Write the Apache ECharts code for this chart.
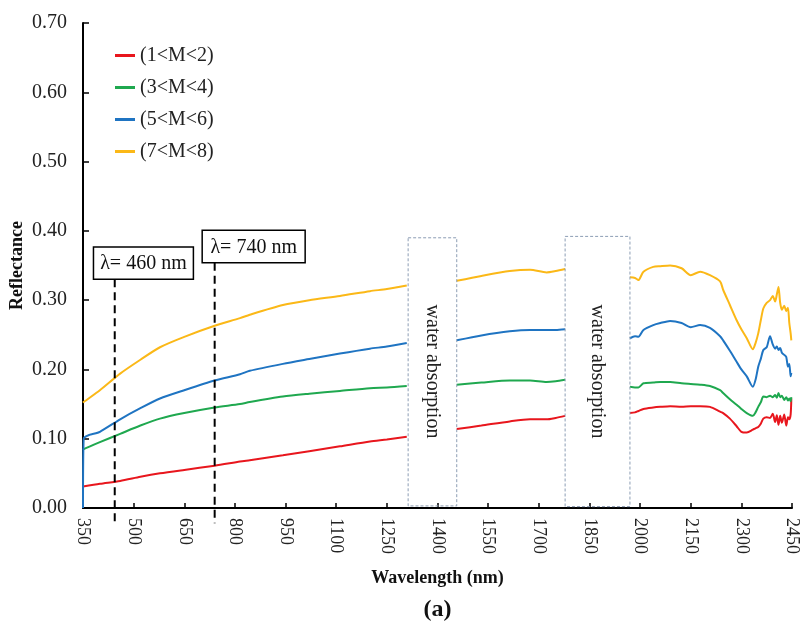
<!DOCTYPE html>
<html>
<head>
<meta charset="utf-8">
<script src="https://cdn.jsdelivr.net/npm/echarts@6/dist/echarts.min.js"></script>
<style>html,body{margin:0;padding:0;background:#fff}#c{width:800px;height:636px}</style>
</head>
<body>
<div id="c"></div>
<script>
const wavelengths = [350, 352, 400, 460, 520, 578, 650, 740, 815, 844, 942, 1020, 1111, 1200, 1250, 1309, 1380,
  1457, 1530, 1614, 1674, 1723, 1750, 1778, 1870,
  1970, 1985, 1995, 2010, 2039, 2060, 2089, 2123, 2150, 2178, 2207, 2237, 2246, 2266, 2286, 2300, 2316, 2334, 2342,
  2350, 2358, 2365, 2375, 2385, 2393, 2400, 2405, 2410, 2415, 2420, 2427, 2433, 2438, 2442, 2446, 2448];

const m12 = [0.031, 0.031, 0.035, 0.039, 0.045, 0.050, 0.055, 0.061, 0.067, 0.069, 0.076, 0.082, 0.089, 0.096, 0.099, 0.103, null,
  0.114, 0.119, 0.125, 0.128, 0.128, 0.130, 0.133, null,
  0.137, 0.138, 0.140, 0.143, 0.145, 0.146, 0.147, 0.146, 0.147, 0.147, 0.146, 0.139, 0.137, 0.129, 0.118, 0.110, 0.109, 0.113, 0.115,
  0.117, 0.122, 0.129, 0.131, 0.130, 0.136, 0.124, 0.134, 0.120, 0.133, 0.123, 0.135, 0.119, 0.131, 0.128, 0.135, 0.158];

const m34 = [0.084, 0.085, 0.095, 0.107, 0.119, 0.129, 0.137, 0.145, 0.150, 0.153, 0.161, 0.165, 0.169, 0.173, 0.174, 0.176, null,
  0.178, 0.181, 0.184, 0.184, 0.182, 0.183, 0.185, null,
  0.175, 0.174, 0.174, 0.180, 0.181, 0.182, 0.182, 0.180, 0.179, 0.178, 0.176, 0.170, 0.166, 0.157, 0.149, 0.143, 0.137, 0.133, 0.138,
  0.146, 0.153, 0.161, 0.160, 0.162, 0.160, 0.163, 0.159, 0.166, 0.160, 0.162, 0.156, 0.160, 0.155, 0.158, 0.154, 0.160];

const m56 = [0.000, 0.100, 0.110, 0.128, 0.144, 0.158, 0.170, 0.184, 0.193, 0.198, 0.208, 0.215, 0.223, 0.230, 0.233, 0.238, null,
  0.242, 0.249, 0.255, 0.257, 0.257, 0.257, 0.258, null,
  0.245, 0.248, 0.247, 0.257, 0.264, 0.267, 0.270, 0.267, 0.261, 0.264, 0.260, 0.248, 0.242, 0.227, 0.211, 0.200, 0.190, 0.175, 0.185,
  0.204, 0.216, 0.228, 0.232, 0.248, 0.236, 0.230, 0.233, 0.228, 0.231, 0.224, 0.221, 0.218, 0.204, 0.208, 0.190, 0.195];

const m78 = [0.152, 0.153, 0.170, 0.194, 0.214, 0.232, 0.247, 0.263, 0.274, 0.279, 0.293, 0.300, 0.306, 0.313, 0.316, 0.321, null,
  0.328, 0.335, 0.342, 0.344, 0.340, 0.342, 0.345, null,
  0.333, 0.332, 0.329, 0.341, 0.348, 0.349, 0.350, 0.346, 0.336, 0.341, 0.336, 0.327, 0.315, 0.293, 0.271, 0.258, 0.245, 0.229, 0.238,
  0.252, 0.272, 0.288, 0.296, 0.300, 0.306, 0.298, 0.308, 0.319, 0.296, 0.286, 0.292, 0.284, 0.289, 0.267, 0.252, 0.242];

const seriesNames = ['(1<M<2)', '(3<M<4)', '(5<M<6)', '(7<M<8)'];
const seriesValues = [m12, m34, m56, m78];
const seriesColors = ['#e8161d', '#1fa84f', '#1f74c2', '#fbb817'];

const xTicks = [350, 500, 650, 800, 950, 1100, 1250, 1400, 1550, 1700, 1850, 2000, 2150, 2300, 2450];

// annotation anchors (data units)
const lambdaLines = [444, 740];
const lambdaLabels = ['λ= 460 nm', 'λ= 740 nm'];
const lambdaBoxes = [[381, 677, 0.3766, 0.330], [703, 1008, 0.401, 0.354]];
const waterBoxes = [[1313, 1457, 0.003, 0.390], [1778, 1970, 0.002, 0.392]];

const FONT = 'Liberation Serif';
const chart = echarts.init(document.getElementById('c'));

chart.setOption({
  animation: false,
  backgroundColor: '#fff',
  grid: { left: 83, right: 8, top: 23, bottom: 128, containLabel: false, outerBoundsMode: 'none' },
  legend: {
    orient: 'vertical', left: 110, top: 40,
    icon: 'rect', itemWidth: 20, itemHeight: 3, itemGap: 11,
    textStyle: { fontFamily: FONT, fontSize: 20, color: '#222', lineHeight: 21 },
    data: seriesNames
  },
  xAxis: {
    type: 'value', min: 350, max: 2450,
    name: 'Wavelength (nm)', nameLocation: 'middle', nameGap: 61, nameMoveOverlap: false,
    nameTextStyle: { fontFamily: FONT, fontSize: 18, fontWeight: 'bold', color: '#111' },
    axisLine: { show: true, lineStyle: { color: '#000', width: 2 } },
    axisTick: { show: true, inside: true, length: 5, customValues: xTicks, lineStyle: { color: '#000', width: 1.5 } },
    axisLabel: { customValues: xTicks, rotate: -90, margin: 10, fontFamily: FONT, fontSize: 18, color: '#222', formatter: v => String(v) },
    splitLine: { show: false }
  },
  yAxis: {
    type: 'value', min: 0, max: 0.7, interval: 0.1,
    name: 'Reflectance', nameLocation: 'middle', nameGap: 57, nameMoveOverlap: false,
    nameTextStyle: { fontFamily: FONT, fontSize: 18, fontWeight: 'bold', color: '#111' },
    axisLine: { show: true, lineStyle: { color: '#000', width: 2 } },
    axisTick: { show: true, inside: true, length: 6, lineStyle: { color: '#000', width: 1.5 } },
    axisLabel: { margin: 16, fontFamily: FONT, fontSize: 20, color: '#222', formatter: v => v.toFixed(2) },
    splitLine: { show: false }
  },
  series: seriesNames.map((n, k) => ({
    name: n, type: 'line', showSymbol: false, symbol: 'none', smooth: 0.25,
    lineStyle: { color: seriesColors[k], width: 2 },
    itemStyle: { color: seriesColors[k] },
    data: wavelengths.map((w, i) => seriesValues[k][i] == null ? [w, '-'] : [w, seriesValues[k][i]])
  }))
});

const px = (x, y) => chart.convertToPixel({ xAxisIndex: 0, yAxisIndex: 0 }, [x, y]);
const g = [];
waterBoxes.forEach(b => {
  const p1 = px(b[0], b[3]), p2 = px(b[1], b[2]);
  g.push({ type: 'rect', shape: { x: p1[0], y: p1[1], width: p2[0] - p1[0], height: p2[1] - p1[1] },
    style: { fill: 'rgba(255,255,255,0)', stroke: '#8c9db4', lineWidth: 1, lineDash: [3, 2] }, z: 50 });
  const c = px((b[0] + b[1]) / 2, 0.197);
  g.push({ type: 'text', x: c[0], y: c[1], rotation: -Math.PI / 2,
    style: { text: 'water absorption', fontFamily: FONT, fontSize: 20, fill: '#222', align: 'center', verticalAlign: 'middle' }, z: 51 });
});
lambdaBoxes.forEach((b, i) => {
  const p1 = px(b[0], b[2]), p2 = px(b[1], b[3]);
  const lx = px(lambdaLines[i], 0)[0];
  const bottom = px(lambdaLines[i], -0.022)[1];
  g.push({ type: 'line', shape: { x1: lx, y1: p2[1], x2: lx, y2: bottom },
    style: { stroke: '#000', lineWidth: 2, lineDash: [8, 5] }, z: 52 });
  g.push({ type: 'rect', shape: { x: p1[0], y: p1[1], width: p2[0] - p1[0], height: p2[1] - p1[1] },
    style: { fill: '#fff', stroke: '#000', lineWidth: 1.5 }, z: 53 });
  g.push({ type: 'text', x: (p1[0] + p2[0]) / 2, y: (p1[1] + p2[1]) / 2 + 1,
    style: { text: lambdaLabels[i], fontFamily: FONT, fontSize: 20, fill: '#111', align: 'center', verticalAlign: 'middle' }, z: 54 });
});
g.push({ type: 'text', x: px((350 + 2450) / 2, 0)[0], y: 610,
  style: { text: '(a)', fontFamily: FONT, fontSize: 24, fontWeight: 'bold', fill: '#111', align: 'center', verticalAlign: 'middle' } });
chart.setOption({ graphic: g });
</script>
</body>
</html>
